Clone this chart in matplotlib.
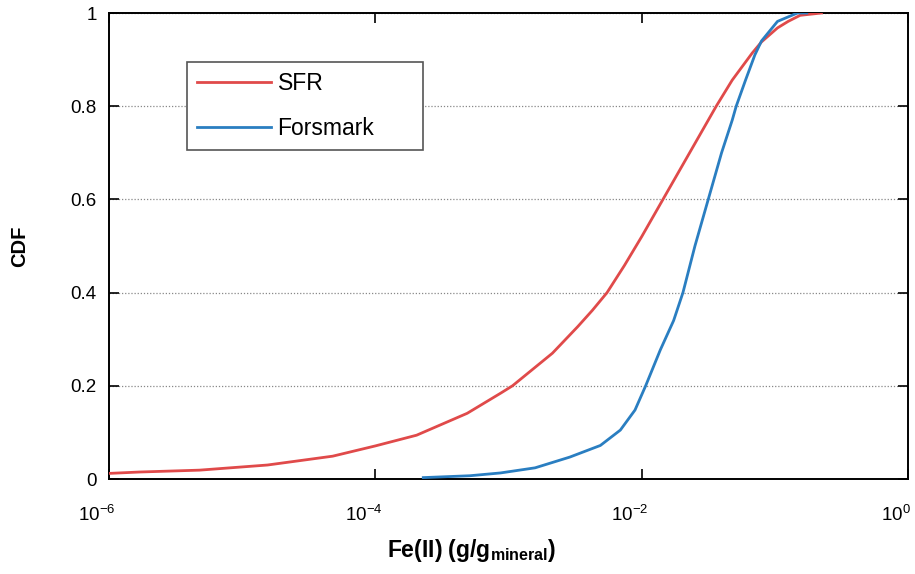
import matplotlib
matplotlib.use('Agg')
import matplotlib.pyplot as plt
import matplotlib.transforms as mtransforms
import numpy as np
from matplotlib import rc
from matplotlib.ticker import FixedLocator, FuncFormatter, NullLocator

# log10 of Fe(II) concentration (g/g mineral) and CDF values
sfr_logx = [-6.0, -5.77, -5.32, -4.81, -4.32, -4.00, -3.69, -3.31, -3.06, -2.97,
            -2.67, -2.48, -2.37, -2.26, -2.13, -2.00, -1.84, -1.66, -1.50, -1.44,
            -1.32, -1.17, -1.10, -0.98, -0.90, -0.81, -0.65]
sfr_cdf = [0.012, 0.015, 0.019, 0.030, 0.049, 0.071, 0.094, 0.141, 0.184, 0.200,
           0.270, 0.327, 0.362, 0.400, 0.458, 0.520, 0.600, 0.690, 0.770, 0.800,
           0.856, 0.914, 0.938, 0.968, 0.982, 0.995, 1.000]

fors_logx = [-3.64, -3.29, -3.06, -2.80, -2.54, -2.31, -2.16, -2.05, -1.97, -1.86,
             -1.76, -1.69, -1.60, -1.50, -1.40, -1.32, -1.29, -1.22, -1.15, -1.10,
             -0.98, -0.83, -0.76]
fors_cdf = [0.003, 0.007, 0.013, 0.024, 0.047, 0.072, 0.105, 0.148, 0.200, 0.277,
            0.340, 0.400, 0.500, 0.600, 0.700, 0.770, 0.800, 0.856, 0.910, 0.940,
            0.982, 1.000, 1.000]

labels = ['SFR', 'Forsmark']
colors = ['#e04a4a', '#2a7ec1']

yticks = [0, 0.2, 0.4, 0.6, 0.8, 1]
xticks = [1e-6, 1e-4, 1e-2, 1e0]

rc('font', family=['Liberation Sans', 'DejaVu Sans'], size=13.5)
rc('mathtext', default='regular')

fig = plt.figure(figsize=(9.15, 5.74), dpi=100)
ax = fig.add_axes([109/915, 95/574, 799/915, 466/574])

ax.plot(10**np.array(sfr_logx), sfr_cdf, color=colors[0], lw=2.0, label=labels[0], zorder=3)
ax.plot(10**np.array(fors_logx), fors_cdf, color=colors[1], lw=2.0, label=labels[1], zorder=3)

ax.set_xscale('log')
ax.set_xlim(1e-6, 1)
ax.set_ylim(0, 1)
ax.xaxis.set_major_locator(FixedLocator(xticks))
ax.xaxis.set_minor_locator(NullLocator())
ax.set_yticks(yticks)
ax.yaxis.set_major_formatter(FuncFormatter(lambda v, p: '%g' % v))

ax.tick_params(which='both', direction='in', top=True, right=True, length=7, width=1.2)
ax.tick_params(axis='x', pad=19)
ax.tick_params(axis='y', pad=9)
for s in ax.spines.values():
    s.set_linewidth(1.4)

# x tick labels sit a bit left of their ticks in the original
shift = mtransforms.ScaledTranslation(-12/100, 0, fig.dpi_scale_trans)
for lab in ax.get_xticklabels():
    lab.set_transform(lab.get_transform() + shift)

ax.yaxis.grid(True, linestyle=(0, (1, 1.5)), color='#888888', linewidth=0.9, zorder=1)

ax.set_ylabel('CDF', fontsize=14.5, fontweight='bold')
ax.yaxis.set_label_coords(-0.1, 0.5)
fig.text(472/915, 10/574, r'Fe(II) (g/g$_{mineral}$)', fontsize=16.5,
         fontweight='bold', ha='center', va='bottom')

leg = ax.legend(loc='upper left', bbox_to_anchor=(0.0976, 0.710, 0.296, 0.185),
                mode='expand', borderaxespad=0, fontsize=16.5, handlelength=3.2,
                handletextpad=0.3, labelspacing=0.95, borderpad=0.45,
                fancybox=False, edgecolor='#555555', framealpha=1.0)
leg.get_frame().set_linewidth(1.2)

plt.savefig('out.png', dpi=100)
